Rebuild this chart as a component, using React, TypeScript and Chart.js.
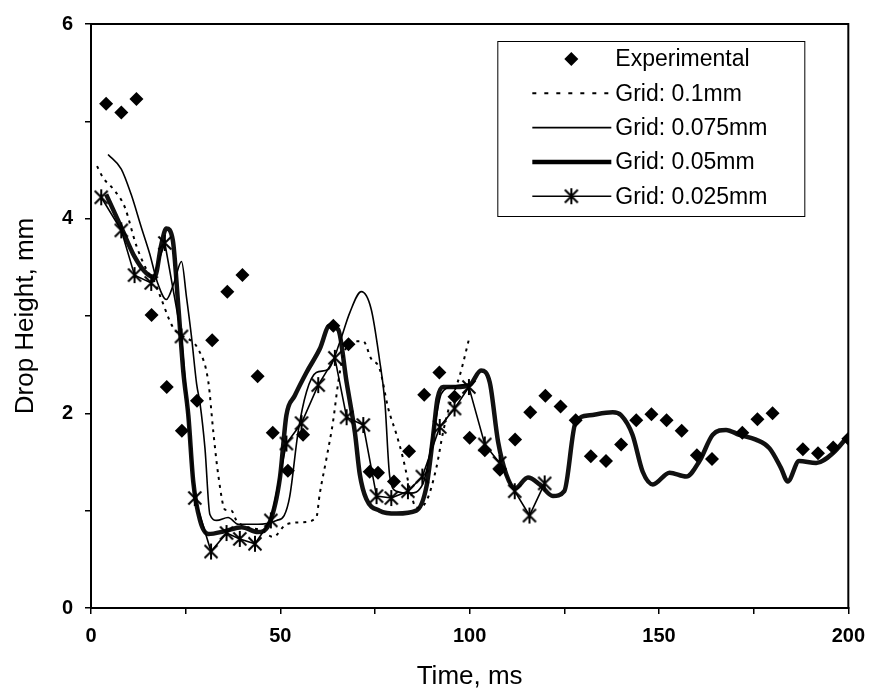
import React, { useEffect, useRef } from "react";
import { Chart, registerables } from "chart.js";

Chart.register(...registerables);

// ---------- data ----------
const expTime = [4, 8, 12, 16, 20, 24, 28, 32, 36, 40, 44, 48, 52, 56, 64, 68, 73.6, 75.8, 80, 84, 88, 92, 96, 100, 104, 108, 112, 116, 120, 124, 128, 132, 136, 140, 144, 148, 152, 156, 160, 164, 172, 176, 180, 188, 192, 196, 200];
const expHeight = [5.18, 5.09, 5.23, 3.01, 2.27, 1.82, 2.13, 2.75, 3.25, 3.42, 2.38, 1.8, 1.41, 1.78, 2.9, 2.71, 1.4, 1.39, 1.3, 1.61, 2.19, 2.42, 2.17, 1.75, 1.62, 1.42, 1.73, 2.01, 2.18, 2.07, 1.93, 1.56, 1.51, 1.68, 1.93, 1.99, 1.93, 1.82, 1.57, 1.53, 1.8, 1.94, 2.0, 1.63, 1.59, 1.65, 1.74];

const g01Time = [1.6, 3.2, 6.2, 8.9, 12, 15, 16.8, 18.6, 21.7, 24, 28.3, 31, 32.3, 33.6, 35.4, 37.1, 38.4, 41.5, 45, 48.1, 51.6, 55.6, 59.5, 60.4, 62.2, 63.9, 65.3, 66.6, 69.2, 71.9, 74, 76.2, 78.5, 80.7, 82.4, 84.2, 85.9, 88.6, 91.2, 93, 94.7, 97.4, 100];
const g01Height = [4.54, 4.42, 4.29, 4.12, 3.72, 3.45, 3.35, 3.17, 2.88, 2.8, 2.66, 2.32, 1.81, 1.37, 1.01, 1.0, 0.9, 0.83, 0.8, 0.73, 0.86, 0.88, 0.93, 1.17, 1.54, 1.91, 2.32, 2.59, 2.74, 2.74, 2.56, 2.46, 2.05, 1.78, 1.54, 1.23, 1.03, 1.1, 1.44, 1.81, 2.08, 2.39, 2.79];

const g0075Time = [4.5, 8, 10.6, 13.3, 15.5, 17.5, 19.9, 22, 23.9, 25.2, 26.5, 27.9, 28.8, 30.1, 31.4, 33.2, 36.2, 38.9, 44.1, 49, 51, 52.5, 54.7, 56.9, 59.5, 62.6, 65.7, 68.3, 71.4, 74, 76.2, 77.6, 78.9, 80.7, 84.2, 87.7, 90.8, 92.5, 96, 100];
const g0075Height = [4.66, 4.51, 4.25, 3.91, 3.64, 3.35, 3.17, 3.35, 3.56, 3.2, 2.8, 2.3, 2.1, 1.64, 0.96, 0.9, 0.93, 0.86, 0.86, 0.9, 0.95, 1.15, 1.81, 2.22, 2.42, 2.45, 2.73, 3.03, 3.25, 3.07, 2.55, 2.12, 1.35, 1.2, 1.18, 1.28, 1.88, 2.2, 2.28, 2.3];

const g005Time = [4, 8, 11.5, 14.6, 16.8, 18.6, 19.9, 21.6, 23, 24.4, 25.7, 27, 28.8, 31, 35.4, 39.8, 44.1, 47.2, 49.9, 51.6, 53.8, 56.9, 60.4, 63, 65.3, 67.5, 69.7, 71, 72.7, 76.2, 80.7, 85.9, 88.6, 90.3, 91.5, 93, 96.5, 100, 103, 105.3, 107.5, 109.7, 112, 115.4, 118.5, 122, 125, 128, 131.7, 137.8, 140, 143, 145.7, 148.4, 152.8, 157.2, 160.7, 164.2, 167.7, 171.2, 175.6, 179.2, 182.2, 184, 187, 191.5, 195.9, 199.8];
const g005Height = [4.25, 3.91, 3.61, 3.44, 3.4, 3.74, 3.9, 3.78, 3.13, 2.42, 1.98, 1.3, 0.9, 0.76, 0.79, 0.83, 0.78, 0.88, 1.34, 1.98, 2.18, 2.42, 2.66, 2.9, 2.86, 2.32, 1.8, 1.37, 1.12, 1.0, 0.97, 1.0, 1.25, 1.75, 2.15, 2.27, 2.27, 2.29, 2.44, 2.32, 1.71, 1.37, 1.23, 1.34, 1.27, 1.15, 1.2, 1.91, 1.98, 2.01, 1.98, 1.78, 1.4, 1.27, 1.39, 1.35, 1.51, 1.78, 1.83, 1.78, 1.73, 1.64, 1.44, 1.3, 1.51, 1.49, 1.59, 1.76];

const g0025Time = [2.7, 8, 11.5, 15.9, 19.5, 23.9, 27.4, 31.7, 35.8, 39.3, 43.3, 47.5, 51.6, 55.6, 60, 64.4, 67.5, 71.9, 75.4, 79.3, 83.7, 87.5, 92.1, 96, 99.8, 104, 107.9, 111.9, 115.8, 119.8];
const g0025Height = [4.22, 3.88, 3.42, 3.34, 3.75, 2.79, 1.13, 0.58, 0.77, 0.71, 0.66, 0.9, 1.69, 1.9, 2.29, 2.57, 1.96, 1.88, 1.15, 1.13, 1.2, 1.35, 1.86, 2.05, 2.27, 1.68, 1.49, 1.2, 0.95, 1.28];

const xTickLabels = [0, 50, 100, 150, 200];
const yTickLabels = [0, 2, 4, 6];
const seriesNames = ["Experimental", "Grid: 0.1mm", "Grid: 0.075mm", "Grid: 0.05mm", "Grid: 0.025mm"];

const FONT = "'Liberation Sans', Arial, sans-serif";

function pts(xs: number[], ys: number[]) {
  return xs.map((x, i) => ({ x, y: ys[i] }));
}

function makeStar(): HTMLCanvasElement {
  const c = document.createElement("canvas");
  c.width = 20;
  c.height = 20;
  const g = c.getContext("2d")!;
  g.strokeStyle = "#000";
  g.lineWidth = 2;
  g.lineCap = "butt";
  g.beginPath();
  g.moveTo(10, 2);
  g.lineTo(10, 18);
  g.moveTo(3.5, 3.5);
  g.lineTo(16.5, 16.5);
  g.moveTo(16.5, 3.5);
  g.lineTo(3.5, 16.5);
  g.stroke();
  return c;
}

function drawDiamond(ctx: CanvasRenderingContext2D, x: number, y: number, r: number) {
  ctx.beginPath();
  ctx.moveTo(x, y - r);
  ctx.lineTo(x + r, y);
  ctx.lineTo(x, y + r);
  ctx.lineTo(x - r, y);
  ctx.closePath();
  ctx.fill();
}

const frameAndLegend = {
  id: "frameAndLegend",
  afterDraw(chart: any) {
    const ctx: CanvasRenderingContext2D = chart.ctx;
    const a = chart.chartArea;
    ctx.save();
    ctx.strokeStyle = "#000";
    ctx.lineWidth = 2;
    ctx.strokeRect(a.left, a.top, a.right - a.left, a.bottom - a.top);

    const bx = a.right - 351;
    const by = a.top + 17;
    const bw = 307;
    const bh = 175;
    ctx.fillStyle = "#fff";
    ctx.fillRect(bx, by, bw, bh);
    ctx.lineWidth = 1;
    ctx.strokeRect(bx + 0.5, by + 0.5, bw, bh);

    const star = chart.$star as HTMLCanvasElement;
    ctx.font = `23px ${FONT}`;
    ctx.textBaseline = "middle";
    ctx.textAlign = "left";
    for (let i = 0; i < seriesNames.length; i++) {
      const y = by + 18 + i * 34.3;
      const x0 = bx + 35;
      const x1 = bx + 114;
      const xm = bx + 74;
      ctx.fillStyle = "#000";
      ctx.strokeStyle = "#000";
      if (i === 0) {
        drawDiamond(ctx, xm, y, 7);
      } else {
        ctx.beginPath();
        if (i === 1) {
          ctx.setLineDash([4, 8]);
          ctx.lineWidth = 2;
        } else if (i === 2) {
          ctx.setLineDash([]);
          ctx.lineWidth = 1.6;
        } else if (i === 3) {
          ctx.setLineDash([]);
          ctx.lineWidth = 4.5;
        } else {
          ctx.setLineDash([]);
          ctx.lineWidth = 1.6;
        }
        ctx.moveTo(x0, y);
        ctx.lineTo(x1, y);
        ctx.stroke();
        ctx.setLineDash([]);
        if (i === 4 && star) ctx.drawImage(star, xm - 10, y - 10);
      }
      ctx.fillText(seriesNames[i], bx + 118, y + 1);
    }
    ctx.restore();
  },
};

export default function App() {
  const ref = useRef<HTMLCanvasElement>(null);

  useEffect(() => {
    if (!ref.current) return;
    const star = makeStar();
    const chart: any = new Chart(ref.current, {
      type: "scatter",
      data: {
        datasets: [
          {
            label: seriesNames[0],
            data: pts(expTime, expHeight),
            showLine: false,
            pointStyle: "rectRot",
            pointRadius: 7,
            backgroundColor: "#000",
            borderColor: "#000",
            borderWidth: 0,
          },
          {
            label: seriesNames[4],
            data: pts(g0025Time, g0025Height),
            showLine: true,
            borderColor: "#000",
            borderWidth: 1.6,
            tension: 0,
            pointStyle: star,
            pointRadius: 8,
          },
          {
            label: seriesNames[1],
            data: pts(g01Time, g01Height),
            showLine: true,
            borderColor: "#000",
            borderWidth: 2,
            borderDash: [3, 5],
            cubicInterpolationMode: "monotone",
            pointRadius: 0,
          },
          {
            label: seriesNames[2],
            data: pts(g0075Time, g0075Height),
            showLine: true,
            borderColor: "#000",
            borderWidth: 1.6,
            cubicInterpolationMode: "monotone",
            pointRadius: 0,
          },
          {
            label: seriesNames[3],
            data: pts(g005Time, g005Height),
            showLine: true,
            borderColor: "#111",
            borderWidth: 4.5,
            cubicInterpolationMode: "monotone",
            pointRadius: 0,
          },
        ],
      },
      options: {
        animation: false,
        responsive: false,
        layout: { padding: { top: 18, right: 26, left: 0, bottom: 0 } },
        plugins: {
          legend: { display: false },
          tooltip: { enabled: false },
        },
        scales: {
          x: {
            type: "linear",
            min: 0,
            max: 200,
            afterFit: (s: any) => {
              s.height = 88;
            },
            ticks: {
              stepSize: 25,
              autoSkip: false,
              maxRotation: 0,
              padding: 10,
              color: "#000",
              font: { family: FONT, size: 20, weight: "bold" },
              callback: (v: any) => (xTickLabels.includes(Number(v)) ? String(v) : ""),
            },
            grid: { drawOnChartArea: false, drawTicks: true, tickLength: 6, color: "#000", lineWidth: 1.5 },
            border: { display: true, color: "#000", width: 2 },
            title: {
              display: true,
              text: "Time, ms",
              color: "#000",
              font: { family: FONT, size: 26 },
              padding: { top: 0, bottom: 4 },
            },
          },
          y: {
            type: "linear",
            min: 0,
            max: 6,
            afterFit: (s: any) => {
              s.width = 91;
            },
            ticks: {
              stepSize: 1,
              autoSkip: false,
              padding: 12,
              color: "#000",
              font: { family: FONT, size: 20, weight: "bold" },
              callback: (v: any) => (yTickLabels.includes(Number(v)) ? String(v) : ""),
            },
            grid: { drawOnChartArea: false, drawTicks: true, tickLength: 6, color: "#000", lineWidth: 1.5 },
            border: { display: true, color: "#000", width: 2 },
            title: {
              display: true,
              text: "Drop Height, mm",
              color: "#000",
              font: { family: FONT, size: 26 },
              padding: { top: 10, bottom: 0 },
            },
          },
        },
      },
      plugins: [frameAndLegend],
    });
    chart.$star = star;
    chart.draw();
    return () => chart.destroy();
  }, []);

  return (
    <div style={{ position: "fixed", left: 0, top: 0, width: 875, height: 696, background: "#fff" }}>
      <canvas ref={ref} width={875} height={696} style={{ display: "block", width: 875, height: 696 }} />
    </div>
  );
}
